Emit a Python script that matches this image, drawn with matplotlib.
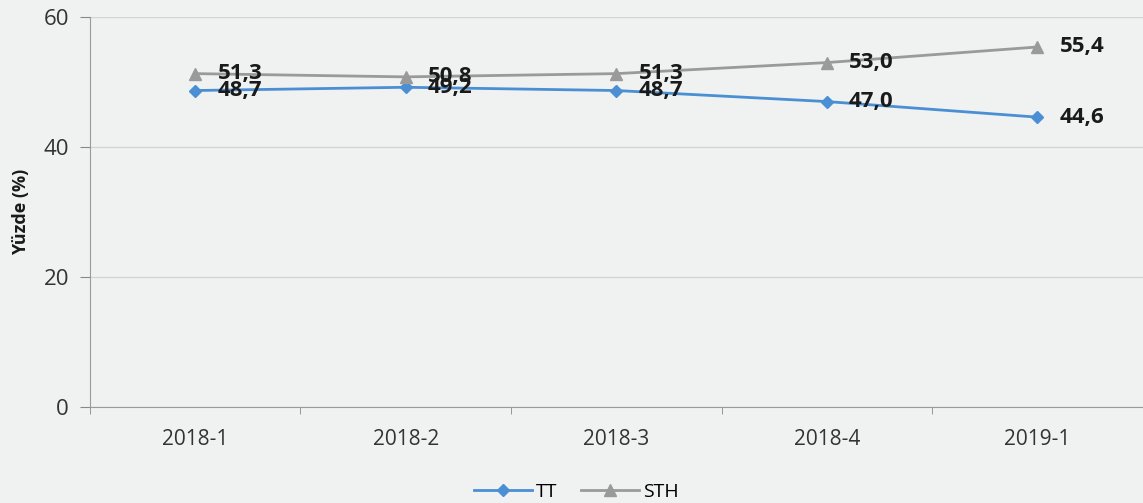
import numpy as np
import matplotlib.pyplot as plt

# Veriler
donemler = ['2018-1', '2018-2', '2018-3', '2018-4', '2019-1']
tt = [48.7, 49.2, 48.7, 47.0, 44.6]
sth = [51.3, 50.8, 51.3, 53.0, 55.4]

bg = '#f0f2f1'
plt.rcParams['font.family'] = ['Open Sans', 'DejaVu Sans']

fig = plt.figure(figsize=(11.43, 5.03), dpi=100, facecolor=bg)
ax = fig.add_axes([0.0787, 0.191, 0.921, 0.775], facecolor=bg)

x = np.arange(len(donemler))
ax.plot(x, tt, color='#4a8fd4', lw=2, marker='D', ms=6, label='TT')
ax.plot(x, sth, color='#9a9a9a', lw=2, marker='^', ms=8, label='STH')

# veri etiketleri (virgüllü ondalık)
for seri in (tt, sth):
    for xi, v in zip(x, seri):
        ax.annotate(f'{v:.1f}'.replace('.', ','), (xi, v), xytext=(16, 0),
                    textcoords='offset points', ha='left', va='center',
                    fontsize=16, fontweight='bold', color='#1a1a1a')

ax.set_xlim(-0.5, 4.5)
ax.set_ylim(0, 60)
ax.set_yticks([0, 20, 40, 60])
ax.set_xticks(x)
ax.set_xticklabels(donemler)
ax.set_xticks(np.arange(-0.5, 5, 1), minor=True)
ax.tick_params(axis='x', which='major', length=0, pad=16, labelsize=15, colors='#333333')
ax.tick_params(axis='x', which='minor', length=5, color='#888888', direction='out')
ax.tick_params(axis='y', length=7, color='#888888', labelsize=16, labelcolor='#333333', pad=8)

ax.grid(axis='y', color='#d4d4d4', lw=1)
ax.set_axisbelow(True)
for s in ['top', 'right']:
    ax.spines[s].set_visible(False)
ax.spines['left'].set_color('#9a9a9a')
ax.spines['bottom'].set_color('#9a9a9a')

ax.set_ylabel('Yüzde (%)', fontsize=13, fontweight='bold', color='#1a1a1a', labelpad=10)

ax.legend(loc='upper center', bbox_to_anchor=(0.462, -0.15), ncol=2, frameon=False,
          fontsize=14, handlelength=3, columnspacing=1.2, handletextpad=0.2)

fig.savefig('out.png', dpi=100, facecolor=bg)
